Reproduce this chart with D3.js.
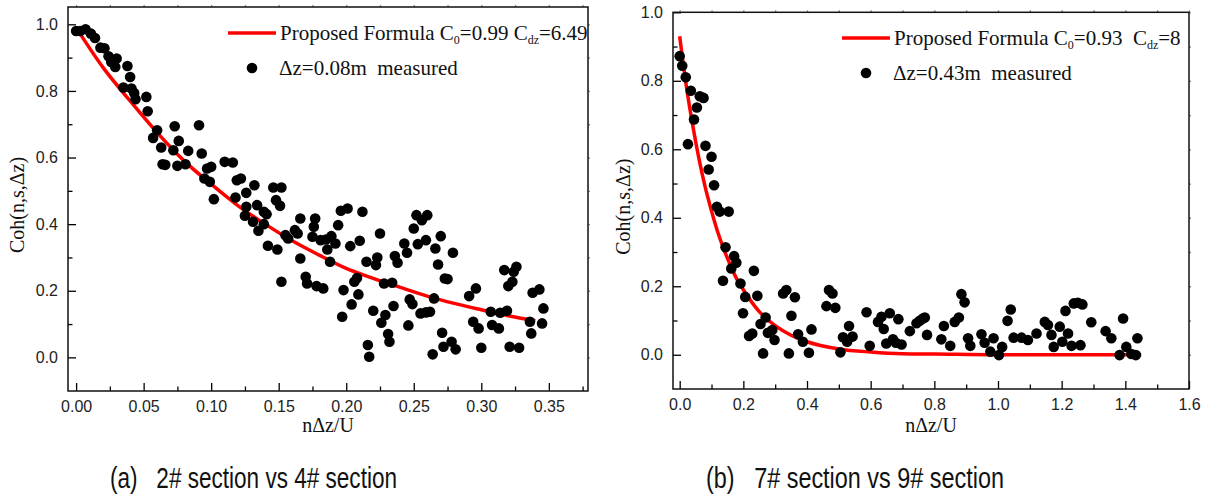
<html>
<meta charset="utf-8" />
<head>
<title>Coherence vs n&Delta;z/U</title>
<script src="https://cdn.jsdelivr.net/npm/d3@7/dist/d3.min.js"></script>
<style>
	body { margin: 0; background: #fff; }
	svg { display: block; }
	.tick text { font-family: "Liberation Sans", Arial, sans-serif; font-size: 16px; fill: #222; }
	.serif { font-family: "Liberation Serif", "Times New Roman", serif; fill: #111; white-space: pre; }
	.cap { font-family: "Liberation Sans", Arial, sans-serif; fill: #111; white-space: pre; }
</style>

<script>
// ---- panel (a) : 2# section vs 4# section, dz = 0.08m ----
const measuredA = [
	[0.000,0.980],[0.003,0.980],[0.007,0.985],[0.011,0.972],[0.014,0.959],
	[0.018,0.930],[0.021,0.928],[0.024,0.904],[0.026,0.887],[0.029,0.872],[0.030,0.897],
	[0.038,0.875],[0.040,0.842],[0.035,0.810],[0.041,0.807],[0.043,0.794],[0.044,0.775],
	[0.052,0.782],[0.053,0.739],[0.060,0.682],[0.057,0.659],[0.063,0.630],[0.064,0.580],[0.066,0.578],
	[0.073,0.694],[0.076,0.650],[0.072,0.622],[0.075,0.575],[0.081,0.580],[0.083,0.620],
	[0.091,0.697],[0.093,0.612],[0.095,0.537],[0.097,0.567],[0.100,0.572],[0.099,0.527],[0.102,0.475],
	[0.110,0.587],[0.116,0.585],[0.119,0.532],[0.122,0.537],[0.118,0.480],[0.126,0.494],[0.132,0.517],
	[0.146,0.510],[0.152,0.510],[0.148,0.472],
	[0.126,0.452],[0.134,0.457],[0.139,0.437],[0.141,0.430],[0.125,0.425],[0.131,0.407],[0.139,0.400],
	[0.135,0.380],[0.142,0.335],[0.149,0.324],[0.152,0.227],[0.151,0.455],[0.155,0.367],[0.157,0.357],
	[0.166,0.417],[0.166,0.297],[0.162,0.382],[0.164,0.372],
	[0.177,0.417],[0.176,0.392],[0.175,0.362],[0.181,0.352],[0.185,0.354],[0.189,0.364],[0.192,0.342],
	[0.186,0.324],[0.188,0.287],[0.194,0.397],[0.196,0.440],[0.201,0.447],[0.212,0.437],
	[0.170,0.242],[0.171,0.222],[0.178,0.214],[0.183,0.207],
	[0.203,0.334],[0.210,0.350],[0.198,0.202],[0.206,0.227],[0.208,0.238],[0.209,0.189],[0.204,0.159],[0.197,0.122],
	[0.215,0.287],[0.223,0.300],[0.222,0.277],[0.225,0.372],[0.228,0.222],[0.234,0.224],[0.235,0.154],
	[0.229,0.127],[0.226,0.104],[0.220,0.140],[0.216,0.037],[0.217,0.002],[0.231,0.070],[0.232,0.047],
	[0.236,0.304],[0.238,0.284],[0.243,0.342],[0.245,0.314],[0.250,0.387],[0.252,0.427],[0.256,0.412],
	[0.260,0.427],[0.253,0.340],[0.259,0.352],[0.266,0.327],[0.270,0.364],[0.268,0.279],[0.279,0.314],
	[0.247,0.174],[0.249,0.160],[0.246,0.096],[0.255,0.132],[0.259,0.135],[0.262,0.137],[0.265,0.177],
	[0.264,0.009],[0.271,0.074],[0.272,0.032],[0.278,0.047],[0.281,0.024],[0.273,0.237],[0.275,0.235],
	[0.291,0.184],[0.296,0.207],[0.294,0.107],[0.298,0.087],[0.300,0.029],[0.307,0.137],[0.314,0.134],
	[0.319,0.140],[0.308,0.097],[0.313,0.087],[0.317,0.262],[0.320,0.214],[0.323,0.227],[0.324,0.257],
	[0.326,0.272],[0.321,0.032],[0.328,0.029],[0.336,0.107],[0.337,0.072],[0.338,0.194],[0.343,0.204],
	[0.346,0.147],[0.345,0.102]
];
// red fitted curve
const fitA = [
	[0.00,0.99],[0.02,0.87],[0.04,0.77],[0.06,0.675],[0.08,0.59],[0.10,0.52],[0.12,0.455],
	[0.14,0.40],[0.16,0.35],[0.18,0.307],[0.20,0.267],[0.22,0.237],[0.24,0.21],[0.26,0.184],
	[0.28,0.162],[0.30,0.143],[0.32,0.125],[0.34,0.11]
];
const xTicksA = [0, 0.05, 0.10, 0.15, 0.20, 0.25, 0.30, 0.35];
const yTicksA = [0.0, 0.2, 0.4, 0.6, 0.8, 1.0];
const legendA = ["Proposed Formula C", "0", "=0.99 C", "dz", "=6.49"];
const measuredLabelA = "\u0394z=0.08m  measured";

// ---- panel (b) : 7# section vs 9# section, dz = 0.43m ----
const measuredB = [
	[0.000,0.872],[0.008,0.844],[0.019,0.810],[0.035,0.771],[0.063,0.755],[0.075,0.750],[0.054,0.722],
	[0.045,0.687],[0.026,0.615],[0.081,0.610],[0.100,0.578],[0.091,0.541],[0.108,0.495],[0.117,0.432],
	[0.126,0.418],[0.154,0.418],
	[0.144,0.314],[0.171,0.288],[0.178,0.269],[0.162,0.252],[0.136,0.216],[0.191,0.208],[0.233,0.245],
	[0.206,0.169],[0.244,0.172],[0.199,0.121],[0.218,0.055],[0.228,0.062],[0.254,0.090],[0.270,0.109],
	[0.262,0.004],[0.277,0.064],[0.291,0.072],[0.298,0.043],[0.325,0.179],[0.335,0.189],[0.362,0.168],
	[0.351,0.114],[0.372,0.060],[0.343,0.004],[0.387,0.038],[0.406,0.006],[0.414,0.074],[0.461,0.142],
	[0.469,0.189],[0.480,0.179],[0.489,0.137],[0.505,0.007],[0.513,0.051],[0.526,0.038],[0.532,0.084],
	[0.543,0.053],[0.587,0.124],[0.597,0.026],[0.623,0.096],[0.634,0.111],[0.641,0.075],[0.649,0.033],
	[0.660,0.121],[0.670,0.045],[0.679,0.035],[0.687,0.104],[0.697,0.030],[0.723,0.069],
	[0.744,0.092],[0.754,0.099],[0.764,0.106],[0.770,0.109],[0.777,0.058],[0.822,0.045],[0.830,0.084],
	[0.850,0.026],[0.864,0.096],[0.877,0.109],[0.885,0.177],[0.895,0.153],[0.906,0.048],[0.913,0.026],
	[0.948,0.060],[0.958,0.035],[0.976,0.009],[0.986,0.048],[1.003,-0.001],[1.013,0.023],[1.030,0.099],
	[1.040,0.132],[1.049,0.050],[1.074,0.050],[1.094,0.043],[1.121,0.062],[1.147,0.096],[1.157,0.087],
	[1.168,0.058],[1.175,0.023],[1.194,0.082],[1.202,0.038],[1.212,0.128],[1.220,0.062],[1.231,0.026],
	[1.238,0.150],[1.251,0.152],[1.265,0.147],[1.259,0.028],[1.293,0.095],[1.338,0.069],[1.356,0.048],
	[1.382,-0.001],[1.393,0.106],[1.403,0.023],[1.419,0.002],[1.433,-0.001],[1.438,0.048]
];
const fitB = [
	[0.00,0.93],[0.02,0.79],[0.04,0.675],[0.06,0.575],[0.08,0.49],[0.10,0.42],[0.12,0.357],
	[0.14,0.305],[0.16,0.26],[0.18,0.22],[0.20,0.19],[0.25,0.126],[0.30,0.085],[0.35,0.057],
	[0.40,0.038],[0.50,0.017],[0.60,0.008],[0.70,0.003],[0.80,0.002],[1.00,0.0],[1.20,0.0],[1.45,0.0]
];
const xTicksB = [0.0, 0.2, 0.4, 0.6, 0.8, 1.0, 1.2, 1.4, 1.6];
const yTicksB = [0.0, 0.2, 0.4, 0.6, 0.8, 1.0];
const legendB = ["Proposed Formula C", "0", "=0.93  C", "dz", "=8"];
const measuredLabelB = "\u0394z=0.43m  measured";

const captions = ["(a)   2# section vs 4# section", "(b)   7# section vs 9# section"];

function drawPanel(svg, o) {
	const g = svg.append('g');
	const x = d3.scaleLinear().domain(o.xDomain).range([o.left, o.right]);
	const y = d3.scaleLinear().domain(o.yDomain).range([o.bottom, o.top]);

	// minor ticks (inward, short)
	g.append('g').attr('transform', `translate(0,${o.bottom})`)
		.call(d3.axisBottom(x).tickValues(o.xMinor).tickSize(-4.5).tickFormat(''));
	g.append('g').attr('transform', `translate(${o.left},0)`)
		.call(d3.axisLeft(y).tickValues(o.yMinor).tickSize(-4.5).tickFormat(''));

	// major ticks with labels
	g.append('g').attr('transform', `translate(0,${o.bottom})`)
		.call(d3.axisBottom(x).tickValues(o.xTicks).tickSize(-8).tickPadding(10).tickFormat(d3.format(o.xFmt)));
	g.append('g').attr('transform', `translate(${o.left},0)`)
		.call(d3.axisLeft(y).tickValues(o.yTicks).tickSize(-8).tickPadding(10).tickFormat(d3.format('.1f')));

	// tiny grey ticks on top and right edges
	g.append('g').attr('class', 'edge').attr('transform', `translate(0,${o.top})`)
		.call(d3.axisTop(x).tickValues(o.xTicks.concat(o.xMinor)).tickSize(2).tickFormat(''));
	g.append('g').attr('class', 'edge').attr('transform', `translate(${o.right},0)`)
		.call(d3.axisRight(y).tickValues(o.yTicks.concat(o.yMinor)).tickSize(2).tickFormat(''));
	g.selectAll('.edge line').attr('stroke', '#888');

	g.selectAll('.domain').remove();
	g.selectAll('.tick line').attr('stroke-width', 1.3);

	g.append('rect')
		.attr('x', o.left).attr('y', o.top)
		.attr('width', o.right - o.left).attr('height', o.bottom - o.top)
		.attr('fill', 'none').attr('stroke', '#111').attr('stroke-width', 1.5);

	// fitted curve
	const line = d3.line().x(d => x(d[0])).y(d => y(d[1])).curve(d3.curveMonotoneX);
	g.append('path').datum(o.fit)
		.attr('d', line)
		.attr('fill', 'none').attr('stroke', '#ff0000').attr('stroke-width', 3.5);

	// measured points
	g.selectAll('circle.pt').data(o.points).enter()
		.append('circle').attr('class', 'pt')
		.attr('cx', d => x(d[0]))
		.attr('cy', d => y(d[1]))
		.attr('r', 5.3)
		.attr('fill', '#000');

	// legend
	g.append('line')
		.attr('x1', o.lx).attr('x2', o.lx + 48)
		.attr('y1', o.ly).attr('y2', o.ly)
		.attr('stroke', '#ff0000').attr('stroke-width', 3.5);
	const t = g.append('text').attr('class', 'serif')
		.attr('x', o.lx + 52).attr('y', o.ly + 7).attr('font-size', 21);
	o.legend.forEach((s, i) => {
		const sub = (i % 2 === 1);
		t.append('tspan')
			.attr('dy', i === 0 ? 0 : (sub ? 4 : -4))
			.attr('font-size', sub ? 12 : 21)
			.text(s);
	});
	g.append('circle')
		.attr('cx', o.lx + 24).attr('cy', o.ly + 35).attr('r', 5.3).attr('fill', '#000');
	g.append('text').attr('class', 'serif')
		.attr('x', o.lx + 51).attr('y', o.ly + 42).attr('font-size', 21)
		.text(o.measured);

	// axis titles
	g.append('text').attr('class', 'serif')
		.attr('font-size', 20).attr('text-anchor', 'middle')
		.attr('x', (o.left + o.right) / 2).attr('y', 432)
		.text('n\u0394z/U');
	g.append('text').attr('class', 'serif')
		.attr('font-size', 20).attr('text-anchor', 'middle')
		.attr('transform', `translate(${o.ytx},${(o.top + o.bottom) / 2 + 6}) rotate(-90)`)
		.text('Coh(n,s,\u0394z)');

	// caption below
	svg.append('text').attr('class', 'cap')
		.attr('x', o.capX).attr('y', 488)
		.attr('font-size', 29)
		.attr('textLength', o.capW).attr('lengthAdjust', 'spacingAndGlyphs')
		.text(o.caption);
}

window.onload = function() {
	const svg = d3.select('body').append('svg')
		.attr('width', 1206).attr('height', 500);

	drawPanel(svg, {
		left: 68, right: 588, top: 7, bottom: 391,
		xDomain: [-0.006, 0.379], yDomain: [-0.101, 1.052],
		xTicks: xTicksA, xMinor: [0.025, 0.075, 0.125, 0.175, 0.225, 0.275, 0.325, 0.375],
		yTicks: yTicksA, yMinor: [0.1, 0.3, 0.5, 0.7, 0.9],
		xFmt: '.2f', points: measuredA, fit: fitA,
		legend: legendA, measured: measuredLabelA,
		lx: 228, ly: 33, ytx: 24,
		caption: captions[0], capX: 110, capW: 287
	});

	drawPanel(svg, {
		left: 673, right: 1189, top: 12.3, bottom: 389,
		xDomain: [-0.021, 1.6], yDomain: [-0.1, 1.0],
		xTicks: xTicksB, xMinor: [0.1, 0.3, 0.5, 0.7, 0.9, 1.1, 1.3, 1.5],
		yTicks: yTicksB, yMinor: [0.1, 0.3, 0.5, 0.7, 0.9],
		xFmt: '.1f', points: measuredB, fit: fitB,
		legend: legendB, measured: measuredLabelB,
		lx: 842, ly: 38, ytx: 630,
		caption: captions[1], capX: 706, capW: 298
	});
}
</script>
</head>
<body>
</body>
</html>
